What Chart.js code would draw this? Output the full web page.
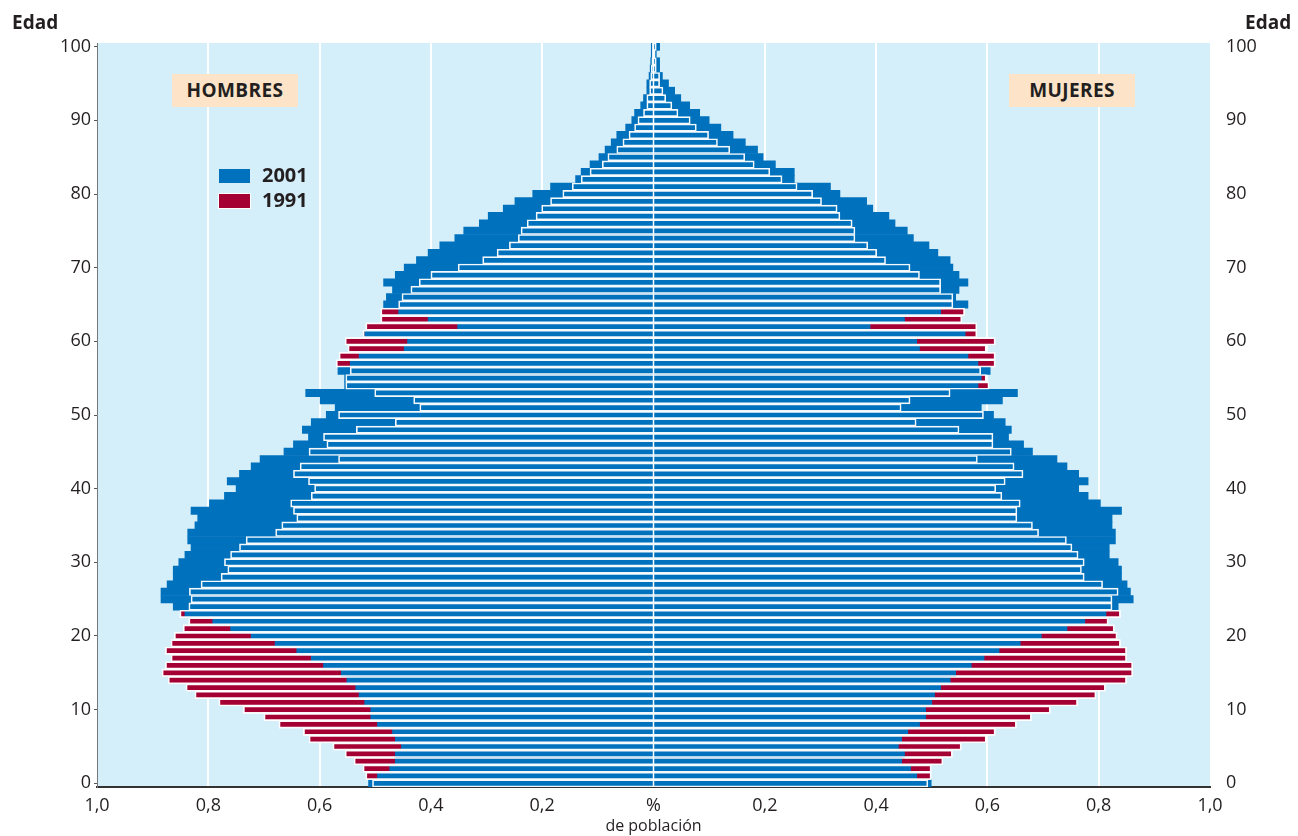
<!DOCTYPE html>
<html lang="es">
<head>
<meta charset="utf-8">
<title>Pirámide de población 1991-2001</title>
<script src="https://cdn.jsdelivr.net/npm/chart.js@4.4.1/dist/chart.umd.min.js"></script>
<style>
  body { margin:0; background:#fff; font-family:"Open Sans", "Noto Sans", sans-serif; color:#231f20; }
  #wrap { position:relative; width:1298px; height:836px; }
  .txt { position:absolute; white-space:nowrap; }
  .edad { font-size:19px; font-weight:700; line-height:20px; top:12px; }
  .sexo { top:74px; width:126px; height:33px; line-height:33px; text-align:center;
          background:#fde3c8; font-size:19px; font-weight:700; letter-spacing:0.4px; }
  .caja { position:absolute; left:219px; width:31px; height:14px; }
  .ley { left:262px; font-size:20px; font-weight:700; line-height:20px; }
</style>
</head>
<body>
<div id="wrap">
  <canvas id="piramide" width="1298" height="836"></canvas>
  <div class="txt edad" style="left:12px">Edad</div>
  <div class="txt edad" style="left:1245px">Edad</div>
  <div class="txt sexo" style="left:172px">HOMBRES</div>
  <div class="txt sexo" style="left:1009px">MUJERES</div>
  <div class="caja" style="top:169px;background:#0071bc"></div>
  <div class="caja" style="top:194px;background:#a50034;box-shadow:0 0 0 1px #fff"></div>
  <div class="txt ley" style="top:165px">2001</div>
  <div class="txt ley" style="top:190px">1991</div>
</div>
<script>
// ---------------- datos (% de población, edad 0 .. 100) ----------------
const edades = Array.from({length: 101}, (_, i) => i);

const hombres2001 = [
  0.512,0.496,0.474,0.464,0.464,0.453,0.464,0.469,0.496,0.508,
  0.508,0.519,0.529,0.535,0.551,0.561,0.593,0.615,0.641,0.680,
  0.723,0.760,0.792,0.842,0.863,0.885,0.885,0.874,0.863,0.863,
  0.853,0.842,0.831,0.837,0.837,0.824,0.819,0.831,0.798,0.771,
  0.750,0.766,0.744,0.723,0.707,0.664,0.647,0.620,0.631,0.615,
  0.588,0.572,0.599,0.625,0.555,0.555,0.567,0.545,0.529,0.448,
  0.442,0.519,0.352,0.405,0.458,0.485,0.480,0.469,0.485,0.464,
  0.448,0.426,0.405,0.384,0.357,0.341,0.313,0.297,0.270,0.249,
  0.217,0.185,0.140,0.130,0.114,0.098,0.087,0.076,0.066,0.050,
  0.039,0.034,0.023,0.018,0.012,0.012,0.008,0.006,0.005,0.004,
  0.004
];
const hombres1991 = [
  0.505,0.517,0.522,0.538,0.554,0.576,0.619,0.629,0.673,0.700,
  0.737,0.781,0.824,0.840,0.872,0.883,0.877,0.867,0.877,0.867,
  0.861,0.845,0.835,0.851,0.835,0.831,0.834,0.813,0.777,0.765,
  0.771,0.760,0.744,0.732,0.679,0.668,0.641,0.647,0.652,0.615,
  0.609,0.620,0.647,0.635,0.566,0.619,0.587,0.593,0.534,0.464,
  0.566,0.420,0.431,0.501,0.553,0.553,0.545,0.570,0.565,0.549,
  0.554,0.522,0.517,0.490,0.490,0.458,0.452,0.436,0.421,0.400,
  0.351,0.307,0.281,0.259,0.243,0.238,0.227,0.211,0.201,0.185,
  0.163,0.146,0.130,0.114,0.092,0.082,0.066,0.055,0.044,0.034,
  0.028,0.018,0.012,0.012,0.007,0.007,0.005,0.004,0.003,0.002,
  0.002
];
const mujeres2001 = [
  0.499,0.473,0.462,0.446,0.451,0.440,0.446,0.457,0.478,0.489,
  0.489,0.500,0.505,0.516,0.533,0.543,0.571,0.594,0.621,0.659,
  0.697,0.743,0.775,0.813,0.835,0.862,0.857,0.851,0.841,0.841,
  0.835,0.819,0.819,0.830,0.830,0.824,0.824,0.841,0.803,0.781,
  0.764,0.781,0.764,0.743,0.725,0.681,0.665,0.638,0.643,0.632,
  0.611,0.589,0.627,0.654,0.583,0.589,0.605,0.583,0.565,0.478,
  0.473,0.560,0.389,0.451,0.516,0.565,0.543,0.549,0.565,0.549,
  0.538,0.533,0.511,0.495,0.467,0.456,0.434,0.423,0.394,0.383,
  0.335,0.318,0.253,0.253,0.219,0.197,0.187,0.165,0.143,0.121,
  0.100,0.083,0.065,0.049,0.038,0.027,0.016,0.011,0.011,0.005,
  0.011
];
const mujeres1991 = [
  0.493,0.499,0.499,0.520,0.537,0.553,0.598,0.614,0.652,0.679,
  0.713,0.762,0.795,0.812,0.850,0.861,0.861,0.850,0.850,0.839,
  0.833,0.828,0.817,0.839,0.824,0.824,0.835,0.807,0.774,0.769,
  0.774,0.763,0.752,0.742,0.692,0.681,0.653,0.653,0.659,0.626,
  0.615,0.632,0.664,0.648,0.582,0.643,0.610,0.610,0.549,0.472,
  0.593,0.445,0.461,0.533,0.603,0.598,0.588,0.614,0.614,0.598,
  0.614,0.581,0.581,0.554,0.559,0.538,0.538,0.516,0.516,0.478,
  0.461,0.417,0.401,0.385,0.362,0.362,0.357,0.335,0.330,0.302,
  0.286,0.258,0.231,0.209,0.181,0.164,0.137,0.115,0.099,0.077,
  0.066,0.044,0.033,0.022,0.017,0.011,0.011,0.005,0.005,0.003,
  0.005
];

const AZUL = '#0071bc', ROJO = '#a50034', FONDO = '#d4eefa';
const fuente = '"Open Sans", "Noto Sans", sans-serif';

// barra flotante: hombres a la izquierda (negativo), mujeres a la derecha
function tramos(h, m){ return h.map((v, i) => [-v, m[i]]); }

// ---------------- plugins ----------------
const fondoPlot = {
  id: 'fondoPlot',
  beforeDraw(chart){
    const a = chart.chartArea, ctx = chart.ctx;
    ctx.save();
    ctx.fillStyle = FONDO;
    ctx.fillRect(a.left, a.top, a.right - a.left, a.bottom - a.top);
    ctx.restore();
  }
};
const ejeCentral = {
  id: 'ejeCentral',
  afterDatasetsDraw(chart){
    const a = chart.chartArea, ctx = chart.ctx;
    const x = chart.scales.x.getPixelForValue(0);
    ctx.save();
    ctx.strokeStyle = '#fff';
    ctx.lineWidth = 1.5;
    ctx.beginPath(); ctx.moveTo(x, a.top); ctx.lineTo(x, a.bottom); ctx.stroke();
    ctx.restore();
  }
};

const ticksEdad = {
  autoSkip: false,
  color: '#231f20',
  font: { family: fuente, size: 18 },
  callback: (v, i) => (edades[i] % 10 === 0 ? String(edades[i]) : '')
};

new Chart(document.getElementById('piramide'), {
  type: 'bar',
  data: {
    labels: edades,
    datasets: [
      { label: '1991', data: tramos(hombres1991, mujeres1991), backgroundColor: ROJO,
        borderColor: '#fff', borderWidth: 1, borderSkipped: false, order: 3 },
      { label: '2001', data: tramos(hombres2001, mujeres2001), backgroundColor: AZUL,
        borderWidth: 0, order: 2 },
      { label: '1991 contorno', data: tramos(hombres1991, mujeres1991), backgroundColor: 'rgba(0,0,0,0)',
        borderColor: 'rgba(255,255,255,0.95)', borderWidth: 1, borderSkipped: false, order: 1 }
    ]
  },
  options: {
    indexAxis: 'y',
    responsive: false,
    animation: false,
    devicePixelRatio: 1,
    layout: { padding: { top: 43, left: 0, right: 0, bottom: 0 } },
    datasets: { bar: { grouped: false, barPercentage: 1, categoryPercentage: 1 } },
    plugins: { legend: { display: false }, tooltip: { enabled: false } },
    scales: {
      x: {
        type: 'linear', min: -1, max: 1,
        ticks: {
          stepSize: 0.2, padding: 8, color: '#231f20',
          font: { family: fuente, size: 18 },
          callback: v => (Math.abs(v) < 1e-9 ? '%' : Math.abs(v).toFixed(1).replace('.', ','))
        },
        grid: {
          color: c => (Math.abs(c.tick.value) > 0.99 ? 'rgba(0,0,0,0)' : '#fff'),
          lineWidth: 2, drawTicks: false
        },
        border: { color: '#333', width: 2 },
        title: { display: true, text: 'de población', color: '#231f20',
                 font: { family: fuente, size: 16 }, padding: { top: 0, bottom: 0 } },
        afterFit: s => { s.height = 49; }
      },
      y: {
        type: 'category', position: 'left', reverse: true, offset: true,
        ticks: Object.assign({ padding: 3 }, ticksEdad),
        grid: { drawOnChartArea: false, offset: false, tickLength: 3,
                color: c => (c.index % 10 === 0 ? '#555' : 'rgba(0,0,0,0)') },
        border: { display: true, color: '#777', width: 1, dash: [1, 2] },
        afterFit: s => { s.width = 97; }
      },
      y2: {
        type: 'category', position: 'right', reverse: true, offset: true,
        ticks: Object.assign({ padding: 8 }, ticksEdad),
        grid: { display: false },
        border: { display: false },
        afterFit: s => { s.width = 88; }
      }
    }
  },
  plugins: [fondoPlot, ejeCentral]
});
</script>
</body>
</html>
